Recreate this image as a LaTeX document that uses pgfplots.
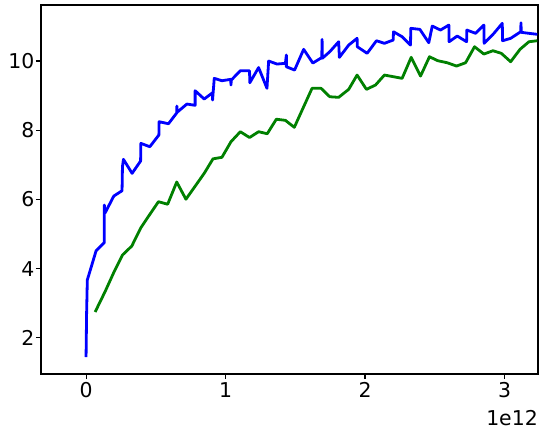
\documentclass[border=0pt]{standalone}
\usepackage{fontspec}
\setmainfont{DejaVu Sans}
\usepackage{pgfplots}
\pgfplotsset{compat=1.18}

\definecolor{mplgreen}{RGB}{0,128,0}

\begin{document}
\begin{tikzpicture}
\begin{axis}[
    name=ax,
    at={(0,0)}, anchor=south west,
    scale only axis,
    width=497bp, height=369bp,
    xmin=-0.323, xmax=3.24,
    ymin=0.954, ymax=11.62,
    xtick={0,1,2,3},
    ytick={2,4,6,8,10},
    tick align=outside,
    xtick pos=bottom, ytick pos=left,
    major tick length=5bp,
    every tick/.style={black, line width=1.1bp},
    axis line style={black, line width=1.1bp},
    tick label style={font=\fontsize{20.5}{24}\selectfont},
    /pgf/number format/assume math mode=true,
    yticklabel style={xshift=2bp},
]
% blue series
\addplot[color=blue, line width=2.8bp, line join=round] coordinates {
    (0.000,1.445) (0.004,2.717) (0.009,3.671) (0.072,4.517) (0.131,4.754)
    (0.131,5.838) (0.136,5.607) (0.199,6.098) (0.258,6.251) (0.261,6.945)
    (0.268,7.159) (0.330,6.754) (0.391,7.110) (0.393,7.621) (0.457,7.523)
    (0.522,7.861) (0.524,8.246) (0.591,8.188) (0.651,8.506) (0.651,8.699)
    (0.653,8.520) (0.723,8.757) (0.782,8.720) (0.782,9.142) (0.847,8.902)
    (0.907,9.084) (0.907,8.873) (0.919,9.500) (0.974,9.431) (1.037,9.471)
    (1.039,9.306) (1.041,9.450) (1.106,9.720) (1.172,9.720) (1.174,9.373)
    (1.237,9.812) (1.297,9.211) (1.309,10.000) (1.369,9.913) (1.429,9.934)
    (1.436,10.173) (1.436,9.835) (1.495,9.740) (1.560,10.338) (1.626,9.942)
    (1.690,10.101) (1.692,10.627) (1.694,10.080) (1.747,10.269) (1.811,10.558)
    (1.816,10.107) (1.883,10.462) (1.943,10.656) (1.945,10.413) (2.015,10.223)
    (2.082,10.587) (2.139,10.512) (2.202,10.607) (2.204,10.847) (2.266,10.702)
    (2.326,10.462) (2.328,10.945) (2.393,10.916) (2.457,10.529) (2.482,11.012)
    (2.541,10.896) (2.601,11.040) (2.603,10.558) (2.661,10.723) (2.728,10.558)
    (2.730,10.896) (2.793,10.801) (2.852,11.040) (2.854,10.512) (2.924,10.801)
    (2.984,11.090) (2.986,10.587) (3.044,10.656) (3.116,10.847) (3.118,11.108)
    (3.120,10.830) (3.175,10.801) (3.235,10.772)
};
% green series
\addplot[color=mplgreen, line width=2.8bp, line join=round] coordinates {
    (0.065,2.746) (0.136,3.332) (0.196,3.864) (0.261,4.393) (0.328,4.653)
    (0.393,5.182) (0.454,5.549) (0.519,5.934) (0.585,5.861) (0.650,6.503)
    (0.716,6.006) (0.782,6.382) (0.847,6.754) (0.910,7.173) (0.974,7.217)
    (1.039,7.668) (1.106,7.957) (1.172,7.789) (1.237,7.957) (1.299,7.899)
    (1.364,8.318) (1.429,8.286) (1.493,8.084) (1.620,9.211) (1.685,9.211)
    (1.747,8.968) (1.811,8.951) (1.883,9.182) (1.943,9.595) (2.010,9.182)
    (2.075,9.306) (2.139,9.595) (2.266,9.500) (2.331,10.107) (2.398,9.566)
    (2.462,10.124) (2.522,10.009) (2.589,9.951) (2.656,9.855) (2.721,9.951)
    (2.785,10.413) (2.852,10.202) (2.917,10.298) (2.977,10.223) (3.044,9.980)
    (3.111,10.338) (3.175,10.558) (3.235,10.587)
};
\end{axis}
\node[anchor=north east, inner sep=0pt, font=\fontsize{20.5}{24}\selectfont]
    at ([yshift=-36bp]ax.south east) {1e12};
\pgfresetboundingbox
\path[use as bounding box] ([xshift=-41bp,yshift=-59bp]ax.south west) rectangle ([xshift=4bp,yshift=5bp]ax.north east);
\end{tikzpicture}
\end{document}
